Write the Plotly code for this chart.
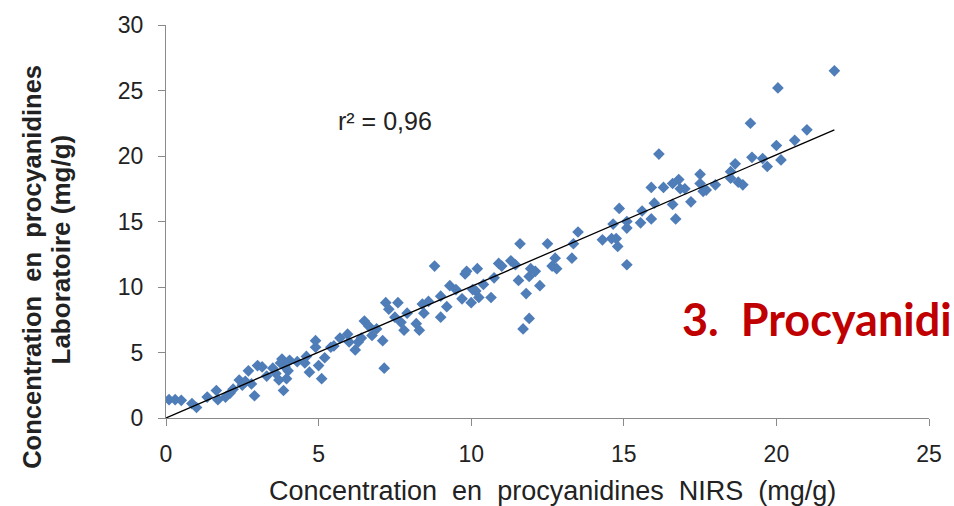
import plotly.graph_objects as go

# NIRS (x) vs Laboratory (y) procyanidin concentrations, mg/g
nirs = [0.1, 0.3, 0.5, 0.85, 1.0, 1.35, 1.65, 1.7, 1.95, 2.1, 2.2, 2.4, 2.5, 2.6, 2.7, 2.9, 2.8,
        3.0, 3.15, 3.3, 3.5, 3.6, 3.7, 3.75, 3.8, 3.85, 3.9, 4.0, 3.95, 4.05, 4.3, 4.55, 4.7,
        4.6, 4.9, 4.9, 5.0, 5.1, 5.2, 5.4, 5.5, 5.7, 5.95, 6.0, 6.2, 6.3, 6.4, 6.5, 6.65, 6.75,
        6.9, 7.1, 7.2, 7.3, 7.15, 7.6, 7.5, 7.7, 7.8, 7.9, 8.2, 8.3, 8.4, 8.45, 8.6, 8.8, 9.0,
        9.0, 9.2, 9.3, 9.5, 9.7, 9.8, 9.85, 10.0, 10.05, 10.2, 10.15, 10.25, 10.4, 10.65, 10.75,
        10.9, 11.0, 11.3, 11.45, 11.55, 11.6, 11.8, 11.9, 11.95, 12.1, 12.25, 11.9, 11.7, 12.5,
        12.65, 12.8, 12.75, 13.3, 13.35, 13.5, 14.3, 14.6, 14.75, 14.8, 14.65, 14.85, 15.1, 15.1,
        15.1, 15.55, 15.6, 15.9, 16.0, 16.15, 15.9, 16.3, 16.6, 16.7, 16.6, 16.8, 16.85, 17.2,
        17.5, 17.6, 17.7, 17.5, 17.0, 18.0, 18.5, 18.5, 18.65, 18.75, 18.9, 19.15, 19.2, 19.55,
        19.7, 20.0, 20.15, 20.05, 20.6, 21.0, 21.9]
labo = [1.4, 1.4, 1.35, 1.1, 0.8, 1.6, 2.1, 1.4, 1.6, 1.9, 2.2, 2.9, 2.5, 2.8, 3.6, 1.7, 2.6,
        4.0, 3.9, 3.2, 3.8, 3.4, 2.9, 4.2, 4.5, 2.1, 3.9, 3.6, 3.0, 4.4, 4.3, 4.2, 3.5,
        4.7, 5.9, 5.4, 4.0, 3.0, 4.6, 5.4, 5.5, 6.1, 6.4, 5.8, 5.2, 5.8, 6.1, 7.4, 7.0, 6.3,
        6.8, 5.9, 8.8, 8.3, 3.8, 8.8, 7.7, 7.3, 6.7, 8.0, 7.2, 6.7, 8.7, 8.0, 8.9, 11.6, 7.7,
        9.3, 8.5, 10.1, 9.8, 9.1, 11.0, 11.2, 8.8, 9.8, 11.4, 9.7, 9.2, 10.2, 9.2, 10.7,
        11.8, 11.6, 12.0, 11.7, 10.5, 13.3, 9.5, 10.8, 11.4, 11.2, 10.1, 7.6, 6.8, 13.3,
        11.6, 11.4, 12.2, 12.2, 13.3, 14.2, 13.6, 13.7, 13.7, 13.1, 14.8, 16.0, 14.5, 11.7,
        15.0, 14.9, 15.8, 15.2, 16.4, 20.15, 17.6, 17.6, 16.3, 15.2, 17.9, 18.2, 17.5, 16.5,
        18.6, 17.3, 17.4, 17.9, 17.5, 17.8, 18.8, 18.3, 19.4, 18.0, 17.8, 22.5, 19.9, 19.8,
        19.2, 20.8, 19.7, 25.2, 21.2, 22.0, 26.5]

# regression line end points
fit_x = [0.0, 21.9]
fit_y = [0.0, 22.0]

x_ticks = [0, 5, 10, 15, 20, 25]
y_ticks = [0, 5, 10, 15, 20, 25, 30]

FONT = "Liberation Sans, Arial, sans-serif"
AXIS_COL = "#8a8a8a"
TXT = "#222222"

fig = go.Figure()
fig.add_trace(go.Scatter(x=nirs, y=labo, mode="markers",
                         marker=dict(symbol="diamond", size=9, color="#4f7db8",
                                     line=dict(width=0)),
                         showlegend=False, hoverinfo="x+y"))
fig.add_trace(go.Scatter(x=fit_x, y=fit_y, mode="lines",
                         line=dict(color="black", width=1.3), showlegend=False))

fig.update_layout(
    width=954, height=506,
    margin=dict(l=166, r=15, t=22, b=88),
    paper_bgcolor="white", plot_bgcolor="white",
    font=dict(family=FONT, color=TXT),
    xaxis=dict(range=[0, 25], tickvals=x_ticks, showgrid=False, zeroline=False,
               showline=True, linecolor=AXIS_COL, linewidth=1.2,
               ticks="outside", ticklen=7, tickcolor=AXIS_COL, tickwidth=1.2,
               tickfont=dict(size=23, family=FONT, color=TXT),
               ticklabelstandoff=8),
    yaxis=dict(range=[0, 30], tickvals=y_ticks, showgrid=False, zeroline=False,
               showline=True, linecolor=AXIS_COL, linewidth=1.2,
               ticks="outside", ticklen=7, tickcolor=AXIS_COL, tickwidth=1.2,
               tickfont=dict(size=23, family=FONT, color=TXT),
               ticklabelstandoff=10),
    annotations=[
        dict(text="Concentration  en  procyanidines  NIRS  (mg/g)", xref="paper", yref="paper",
             x=0.507, y=-0.187, xanchor="center", yanchor="middle", showarrow=False,
             font=dict(size=27, family=FONT, color=TXT)),
        dict(text="<b>Concentration  en  procyanidines</b>", xref="paper", yref="paper",
             x=-0.176, y=0.384, xanchor="center", yanchor="middle", showarrow=False,
             textangle=-90, font=dict(size=25.5, family=FONT, color=TXT)),
        dict(text="<b>Laboratoire (mg/g)</b>", xref="paper", yref="paper",
             x=-0.137, y=0.43, xanchor="center", yanchor="middle", showarrow=False,
             textangle=-90, font=dict(size=26, family=FONT, color=TXT)),
        dict(text="r² = 0,96", xref="paper", yref="paper",
             x=0.287, y=0.755, xanchor="center", yanchor="middle", showarrow=False,
             font=dict(size=25, family=FONT, color=TXT)),
        dict(text="<b>3.  Procyanidi</b>", xref="paper", yref="paper",
             x=0.674, y=0.2525, xanchor="left", yanchor="middle", showarrow=False,
             font=dict(size=45, family="Lato, Open Sans, sans-serif", color="#c00000")),
    ],
)

fig.write_html("out.html")
